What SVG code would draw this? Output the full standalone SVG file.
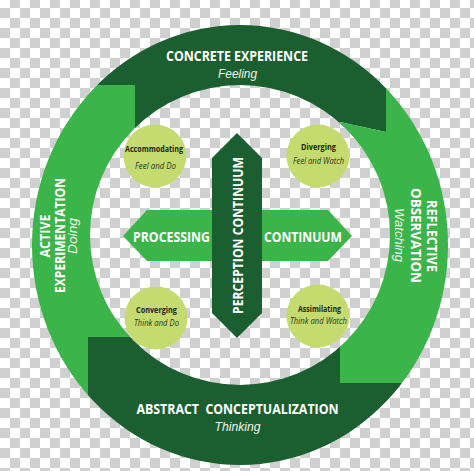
<svg xmlns="http://www.w3.org/2000/svg" width="474" height="471" viewBox="0 0 474 471">
  <defs>
    <pattern id="checker" x="0" y="-2" width="20" height="20" patternUnits="userSpaceOnUse">
      <rect width="20" height="20" fill="#ffffff"/>
      <rect x="10" y="0" width="10" height="10" fill="#d0d0d0"/>
      <rect x="0" y="10" width="10" height="10" fill="#d0d0d0"/>
    </pattern>
    <clipPath id="ring">
      <path clip-rule="evenodd" d="M32,245 a208,220 0 1,0 416,0 a208,220 0 1,0 -416,0 Z M90,235 a150,150 0 1,0 300,0 a150,150 0 1,0 -300,0 Z"/>
    </clipPath>
  </defs>
  <style>
    .dark { fill: #1b5f31; }
    .light { fill: #3bb44a; }
    .pale { fill: #c6db6f; }
    .lbl { font-family: "Open Sans", "Liberation Sans", sans-serif; font-weight: 700; font-size: 14px; fill: #ffffff; text-anchor: middle; }
    .sub { font-family: "Liberation Sans", "Open Sans", sans-serif; font-style: italic; font-size: 13px; fill: #eef5ec; text-anchor: middle; }
    .ct { font-family: "Open Sans", "Liberation Sans", sans-serif; font-weight: 700; font-size: 8.5px; fill: #1c2414; text-anchor: middle; }
    .cs { font-family: "Open Sans", "Liberation Sans", sans-serif; font-style: italic; font-size: 8.5px; fill: #2a3320; text-anchor: middle; }
  </style>

  <rect width="474" height="471" fill="url(#checker)"/>

  <g id="concrete-experience">
    <polygon class="dark" clip-path="url(#ring)" points="0,0 386,0 386,132 340,122 240,235 135,128 135,85 0,85"/>
    <text class="lbl" x="237" y="61" textLength="142" lengthAdjust="spacingAndGlyphs">CONCRETE EXPERIENCE</text>
    <text class="sub" x="237.5" y="77.5" textLength="39" lengthAdjust="spacingAndGlyphs">Feeling</text>
  </g>

  <g id="active-experimentation">
    <polygon class="light" clip-path="url(#ring)" points="0,85 135,85 135,128 240,235 130,337 88,337 88,480 0,480"/>
    <text class="lbl" transform="translate(50,236) rotate(-90)" textLength="43" lengthAdjust="spacingAndGlyphs">ACTIVE</text>
    <text class="lbl" transform="translate(65,235.5) rotate(-90)" textLength="115" lengthAdjust="spacingAndGlyphs">EXPERIMENTATION</text>
    <text class="sub" transform="translate(77,236) rotate(-90)" textLength="36" lengthAdjust="spacingAndGlyphs">Doing</text>
  </g>

  <g id="abstract-conceptualization">
    <polygon class="dark" clip-path="url(#ring)" points="88,480 88,337 130,337 240,235 340,347 340,383 480,383 480,480"/>
    <text class="lbl" x="237.5" y="414" textLength="202" lengthAdjust="spacingAndGlyphs" xml:space="preserve">ABSTRACT  CONCEPTUALIZATION</text>
    <text class="sub" x="237.5" y="431" textLength="46" lengthAdjust="spacingAndGlyphs">Thinking</text>
  </g>

  <g id="reflective-observation">
    <polygon class="light" clip-path="url(#ring)" points="386,0 480,0 480,383 340,383 340,347 240,235 340,122 386,132"/>
    <text class="lbl" transform="translate(427,236) rotate(90)" textLength="72" lengthAdjust="spacingAndGlyphs">REFLECTIVE</text>
    <text class="lbl" transform="translate(411,235.5) rotate(90)" textLength="95" lengthAdjust="spacingAndGlyphs">OBSERVATION</text>
    <text class="sub" transform="translate(395,235) rotate(90)" textLength="54" lengthAdjust="spacingAndGlyphs">Watching</text>
  </g>

  <g id="processing-continuum">
    <polygon class="light" points="123,236 147,210 328,210 352,236 328,261 147,261"/>
    <text class="lbl" style="font-size:14.5px" x="171.5" y="241.5" textLength="77" lengthAdjust="spacingAndGlyphs">PROCESSING</text>
    <text class="lbl" style="font-size:14.5px" x="303" y="241.5" textLength="78" lengthAdjust="spacingAndGlyphs">CONTINUUM</text>
  </g>

  <g id="perception-continuum">
    <polygon class="dark" points="237,133 262,158 262,313 237,338 212,313 212,158"/>
    <text class="lbl" transform="translate(243,235.5) rotate(-90)" textLength="157" lengthAdjust="spacingAndGlyphs">PERCEPTION CONTINUUM</text>
  </g>

  <g id="accommodating">
    <circle class="pale" cx="155" cy="156" r="31.5"/>
    <text class="ct" x="154" y="151.5" textLength="58" lengthAdjust="spacingAndGlyphs">Accommodating</text>
    <text class="cs" x="155.5" y="169" textLength="41" lengthAdjust="spacingAndGlyphs">Feel and Do</text>
  </g>

  <g id="diverging">
    <circle class="pale" cx="318" cy="156" r="31.5"/>
    <text class="ct" x="318.5" y="150" textLength="35" lengthAdjust="spacingAndGlyphs">Diverging</text>
    <text class="cs" x="318.5" y="164" textLength="51" lengthAdjust="spacingAndGlyphs">Feel and Watch</text>
  </g>

  <g id="converging">
    <circle class="pale" cx="156" cy="318" r="31.5"/>
    <text class="ct" x="156.5" y="312.5" textLength="41" lengthAdjust="spacingAndGlyphs">Converging</text>
    <text class="cs" x="156.5" y="325.5" textLength="45" lengthAdjust="spacingAndGlyphs">Think and Do</text>
  </g>

  <g id="assimilating">
    <circle class="pale" cx="318" cy="316" r="31.5"/>
    <text class="ct" x="319.5" y="311.5" textLength="43" lengthAdjust="spacingAndGlyphs">Assimilating</text>
    <text class="cs" x="318.5" y="324" textLength="57" lengthAdjust="spacingAndGlyphs">Think and Watch</text>
  </g>

  <g id="connectors"/>
</svg>
